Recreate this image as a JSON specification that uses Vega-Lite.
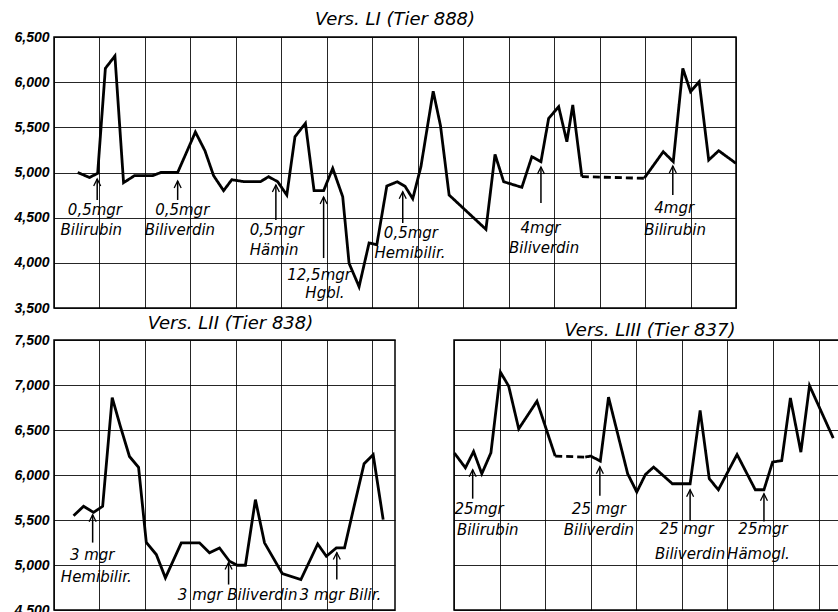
{
  "$schema": "https://vega.github.io/schema/vega-lite/v6.json",
  "background": "white",
  "padding": {"left": 13, "top": 10, "right": 0, "bottom": 0},
  "config": {
    "view": {"stroke": "black", "strokeWidth": 1.5},
    "axis": {"gridColor": "black", "gridWidth": 1, "gridOpacity": 0.85, "ticks": false, "domain": false, "title": null,
      "labelFont": "Liberation Sans", "labelFontStyle": "italic", "labelFontWeight": "bold", "labelFontSize": 14, "labelColor": "black", "labelPadding": 5},
    "title": {"font": "DejaVu Sans", "fontStyle": "italic", "fontWeight": "normal", "fontSize": 18, "color": "black"}
  },
  "datasets": {
    "topLine": [
      {"x": 0.52, "y": 5000, "seg": 1, "style": "solid"},
      {"x": 0.78, "y": 4945, "seg": 1, "style": "solid"},
      {"x": 0.96, "y": 4990, "seg": 1, "style": "solid"},
      {"x": 1.13, "y": 6153, "seg": 1, "style": "solid"},
      {"x": 1.34, "y": 6290, "seg": 1, "style": "solid"},
      {"x": 1.53, "y": 4887, "seg": 1, "style": "solid"},
      {"x": 1.77, "y": 4965, "seg": 1, "style": "solid"},
      {"x": 2.17, "y": 4965, "seg": 1, "style": "solid"},
      {"x": 2.35, "y": 5000, "seg": 1, "style": "solid"},
      {"x": 2.72, "y": 5000, "seg": 1, "style": "solid"},
      {"x": 3.11, "y": 5448, "seg": 1, "style": "solid"},
      {"x": 3.32, "y": 5241, "seg": 1, "style": "solid"},
      {"x": 3.51, "y": 4965, "seg": 1, "style": "solid"},
      {"x": 3.73, "y": 4799, "seg": 1, "style": "solid"},
      {"x": 3.91, "y": 4920, "seg": 1, "style": "solid"},
      {"x": 4.19, "y": 4898, "seg": 1, "style": "solid"},
      {"x": 4.54, "y": 4898, "seg": 1, "style": "solid"},
      {"x": 4.72, "y": 4954, "seg": 1, "style": "solid"},
      {"x": 4.92, "y": 4898, "seg": 1, "style": "solid"},
      {"x": 5.12, "y": 4750, "seg": 1, "style": "solid"},
      {"x": 5.30, "y": 5396, "seg": 1, "style": "solid"},
      {"x": 5.53, "y": 5545, "seg": 1, "style": "solid"},
      {"x": 5.72, "y": 4799, "seg": 1, "style": "solid"},
      {"x": 5.93, "y": 4799, "seg": 1, "style": "solid"},
      {"x": 6.13, "y": 5046, "seg": 1, "style": "solid"},
      {"x": 6.35, "y": 4732, "seg": 1, "style": "solid"},
      {"x": 6.49, "y": 3995, "seg": 1, "style": "solid"},
      {"x": 6.71, "y": 3736, "seg": 1, "style": "solid"},
      {"x": 6.93, "y": 4220, "seg": 1, "style": "solid"},
      {"x": 7.10, "y": 4200, "seg": 1, "style": "solid"},
      {"x": 7.32, "y": 4850, "seg": 1, "style": "solid"},
      {"x": 7.55, "y": 4898, "seg": 1, "style": "solid"},
      {"x": 7.72, "y": 4848, "seg": 1, "style": "solid"},
      {"x": 7.89, "y": 4710, "seg": 1, "style": "solid"},
      {"x": 8.07, "y": 5064, "seg": 1, "style": "solid"},
      {"x": 8.34, "y": 5900, "seg": 1, "style": "solid"},
      {"x": 8.50, "y": 5520, "seg": 1, "style": "solid"},
      {"x": 8.69, "y": 4751, "seg": 1, "style": "solid"},
      {"x": 9.50, "y": 4371, "seg": 1, "style": "solid"},
      {"x": 9.70, "y": 5201, "seg": 1, "style": "solid"},
      {"x": 9.89, "y": 4898, "seg": 1, "style": "solid"},
      {"x": 10.29, "y": 4836, "seg": 1, "style": "solid"},
      {"x": 10.51, "y": 5175, "seg": 1, "style": "solid"},
      {"x": 10.71, "y": 5120, "seg": 1, "style": "solid"},
      {"x": 10.88, "y": 5600, "seg": 1, "style": "solid"},
      {"x": 11.10, "y": 5728, "seg": 1, "style": "solid"},
      {"x": 11.28, "y": 5341, "seg": 1, "style": "solid"},
      {"x": 11.41, "y": 5747, "seg": 1, "style": "solid"},
      {"x": 11.61, "y": 4954, "seg": 1, "style": "solid"},
      {"x": 11.61, "y": 4954, "seg": 2, "style": "dashed"},
      {"x": 12.98, "y": 4936, "seg": 2, "style": "dashed"},
      {"x": 12.98, "y": 4936, "seg": 3, "style": "solid"},
      {"x": 13.40, "y": 5230, "seg": 3, "style": "solid"},
      {"x": 13.62, "y": 5120, "seg": 3, "style": "solid"},
      {"x": 13.83, "y": 6153, "seg": 3, "style": "solid"},
      {"x": 14.00, "y": 5895, "seg": 3, "style": "solid"},
      {"x": 14.19, "y": 6005, "seg": 3, "style": "solid"},
      {"x": 14.40, "y": 5138, "seg": 3, "style": "solid"},
      {"x": 14.62, "y": 5241, "seg": 3, "style": "solid"},
      {"x": 15.00, "y": 5101, "seg": 3, "style": "solid"}
    ],
    "topArrows": [
      {"x": 0.95, "tip": 4928, "tail": 4696},
      {"x": 2.72, "tip": 4906, "tail": 4696},
      {"x": 4.88, "tip": 4862, "tail": 4474},
      {"x": 5.93, "tip": 4729, "tail": 4053},
      {"x": 7.67, "tip": 4787, "tail": 4441},
      {"x": 10.71, "tip": 5061, "tail": 4662},
      {"x": 13.61, "tip": 5072, "tail": 4751}
    ],
    "topText": [
      {"x": 0.90, "y": 4585, "t": "0,5mgr"},
      {"x": 0.82, "y": 4363, "t": "Bilirubin"},
      {"x": 2.82, "y": 4585, "t": "0,5mgr"},
      {"x": 2.77, "y": 4363, "t": "Biliverdin"},
      {"x": 4.90, "y": 4363, "t": "0,5mgr"},
      {"x": 4.84, "y": 4142, "t": "Hämin"},
      {"x": 5.83, "y": 3865, "t": "12,5mgr"},
      {"x": 5.96, "y": 3666, "t": "Hgbl."},
      {"x": 7.85, "y": 4330, "t": "0,5mgr"},
      {"x": 7.83, "y": 4109, "t": "Hemibilir."},
      {"x": 10.70, "y": 4386, "t": "4mgr"},
      {"x": 10.78, "y": 4164, "t": "Biliverdin"},
      {"x": 13.64, "y": 4607, "t": "4mgr"},
      {"x": 13.66, "y": 4363, "t": "Bilirubin"}
    ],
    "blLine": [
      {"x": 0.43, "y": 5548}, {"x": 0.65, "y": 5652}, {"x": 0.87, "y": 5585}, {"x": 1.07, "y": 5652},
      {"x": 1.28, "y": 6860}, {"x": 1.46, "y": 6539}, {"x": 1.66, "y": 6206}, {"x": 1.86, "y": 6084},
      {"x": 2.03, "y": 5252}, {"x": 2.25, "y": 5116}, {"x": 2.45, "y": 4857}, {"x": 2.80, "y": 5246},
      {"x": 3.20, "y": 5246}, {"x": 3.42, "y": 5135}, {"x": 3.64, "y": 5190}, {"x": 3.86, "y": 5042},
      {"x": 4.03, "y": 4997}, {"x": 4.21, "y": 4997}, {"x": 4.43, "y": 5726}, {"x": 4.63, "y": 5246},
      {"x": 5.02, "y": 4905}, {"x": 5.43, "y": 4838}, {"x": 5.80, "y": 5234}, {"x": 5.99, "y": 5097},
      {"x": 6.21, "y": 5190}, {"x": 6.39, "y": 5190}, {"x": 6.60, "y": 5652}, {"x": 6.82, "y": 6125},
      {"x": 7.02, "y": 6225}, {"x": 7.24, "y": 5504}
    ],
    "blArrows": [
      {"x": 0.85, "tip": 5559, "tail": 5249},
      {"x": 3.84, "tip": 5027, "tail": 4783},
      {"x": 6.22, "tip": 5138, "tail": 4838}
    ],
    "blText": [
      {"x": 0.84, "y": 5116, "t": "3 mgr"},
      {"x": 0.93, "y": 4872, "t": "Hemibilir."},
      {"x": 4.04, "y": 4672, "t": "3 mgr Biliverdin"},
      {"x": 6.30, "y": 4672, "t": "3 mgr Bilir."}
    ],
    "brLine": [
      {"x": 0.01, "y": 6243, "seg": 1, "style": "solid"},
      {"x": 0.25, "y": 6080, "seg": 1, "style": "solid"},
      {"x": 0.43, "y": 6261, "seg": 1, "style": "solid"},
      {"x": 0.61, "y": 6014, "seg": 1, "style": "solid"},
      {"x": 0.81, "y": 6247, "seg": 1, "style": "solid"},
      {"x": 1.02, "y": 7142, "seg": 1, "style": "solid"},
      {"x": 1.20, "y": 6987, "seg": 1, "style": "solid"},
      {"x": 1.42, "y": 6513, "seg": 1, "style": "solid"},
      {"x": 1.82, "y": 6820, "seg": 1, "style": "solid"},
      {"x": 2.22, "y": 6210, "seg": 1, "style": "solid"},
      {"x": 2.22, "y": 6210, "seg": 2, "style": "dashed"},
      {"x": 2.88, "y": 6199, "seg": 2, "style": "dashed"},
      {"x": 2.88, "y": 6199, "seg": 3, "style": "solid"},
      {"x": 3.00, "y": 6210, "seg": 3, "style": "solid"},
      {"x": 3.21, "y": 6155, "seg": 3, "style": "solid"},
      {"x": 3.39, "y": 6865, "seg": 3, "style": "solid"},
      {"x": 3.81, "y": 6014, "seg": 3, "style": "solid"},
      {"x": 4.01, "y": 5811, "seg": 3, "style": "solid"},
      {"x": 4.20, "y": 6006, "seg": 3, "style": "solid"},
      {"x": 4.38, "y": 6088, "seg": 3, "style": "solid"},
      {"x": 4.79, "y": 5903, "seg": 3, "style": "solid"},
      {"x": 5.18, "y": 5903, "seg": 3, "style": "solid"},
      {"x": 5.40, "y": 6716, "seg": 3, "style": "solid"},
      {"x": 5.60, "y": 5959, "seg": 3, "style": "solid"},
      {"x": 5.80, "y": 5836, "seg": 3, "style": "solid"},
      {"x": 6.21, "y": 6228, "seg": 3, "style": "solid"},
      {"x": 6.61, "y": 5836, "seg": 3, "style": "solid"},
      {"x": 6.80, "y": 5836, "seg": 3, "style": "solid"},
      {"x": 6.99, "y": 6144, "seg": 3, "style": "solid"},
      {"x": 7.19, "y": 6160, "seg": 3, "style": "solid"},
      {"x": 7.38, "y": 6855, "seg": 3, "style": "solid"},
      {"x": 7.61, "y": 6254, "seg": 3, "style": "solid"},
      {"x": 7.80, "y": 6993, "seg": 3, "style": "solid"},
      {"x": 8.32, "y": 6410, "seg": 3, "style": "solid"}
    ],
    "brArrows": [
      {"x": 0.41, "tip": 6058, "tail": 5737},
      {"x": 3.20, "tip": 6092, "tail": 5770},
      {"x": 5.18, "tip": 5837, "tail": 5493},
      {"x": 6.80, "tip": 5792, "tail": 5482}
    ],
    "brText": [
      {"x": 0.55, "y": 5618, "t": "25mgr"},
      {"x": 0.74, "y": 5385, "t": "Bilirubin"},
      {"x": 3.18, "y": 5618, "t": "25 mgr"},
      {"x": 3.18, "y": 5385, "t": "Biliverdin"},
      {"x": 5.10, "y": 5396, "t": "25 mgr"},
      {"x": 5.18, "y": 5127, "t": "Biliverdin"},
      {"x": 6.78, "y": 5396, "t": "25mgr"},
      {"x": 6.68, "y": 5127, "t": "Hämogl."}
    ]
  },
  "bounds": "flush",
  "spacing": 32,
  "resolve": {"scale": {"x": "independent", "y": "independent", "strokeDash": "independent"}},
  "vconcat": [
    {
      "width": 682,
      "height": 271,
      "title": {"text": "Vers. LI (Tier 888)", "offset": 1},
      "encoding": {
        "x": {"type": "quantitative", "scale": {"domain": [0, 15], "nice": false, "zero": false},
          "axis": {"values": [0,1,2,3,4,5,6,7,8,9,10,11,12,13,14,15], "labels": false, "grid": true}},
        "y": {"type": "quantitative", "scale": {"domain": [3500, 6500], "nice": false, "zero": false},
          "axis": {"values": [3500,4000,4500,5000,5500,6000,6500], "format": ",d", "grid": true}}
      },
      "layer": [
        {
          "data": {"name": "topLine"},
          "mark": {"type": "line", "stroke": "black", "strokeWidth": 2.8, "strokeMiterLimit": 4},
          "encoding": {
            "x": {"field": "x", "type": "quantitative"},
            "y": {"field": "y", "type": "quantitative"},
            "detail": {"field": "seg"},
            "strokeDash": {"field": "style", "type": "nominal", "scale": {"domain": ["solid", "dashed"], "range": [[1, 0], [7, 4]]}, "legend": null}
          }
        },
        {
          "data": {"name": "topArrows"},
          "mark": {"type": "rule", "color": "black", "strokeWidth": 1.5},
          "encoding": {"x": {"field": "x", "type": "quantitative"}, "y": {"field": "tip", "type": "quantitative"}, "y2": {"field": "tail"}}
        },
        {
          "data": {"name": "topArrows"},
          "mark": {"type": "point", "shape": "M-0.5,1L0,0L0.5,1", "filled": false, "stroke": "black", "strokeWidth": 1.3, "size": 196, "opacity": 1},
          "encoding": {"x": {"field": "x", "type": "quantitative"}, "y": {"field": "tip", "type": "quantitative"}}
        },
        {
          "data": {"name": "topText"},
          "mark": {"type": "text", "font": "DejaVu Sans", "fontStyle": "italic", "fontSize": 15, "align": "center", "baseline": "middle", "color": "black"},
          "encoding": {"x": {"field": "x", "type": "quantitative"}, "y": {"field": "y", "type": "quantitative"}, "text": {"field": "t"}}
        }
      ]
    },
    {
      "bounds": "flush",
      "spacing": 59,
      "resolve": {"scale": {"x": "independent", "y": "independent", "strokeDash": "independent"}},
      "hconcat": [
        {
          "width": 341,
          "height": 270,
          "title": {"text": "Vers. LII (Tier 838)", "offset": 0, "dx": 6},
          "encoding": {
            "x": {"type": "quantitative", "scale": {"domain": [0, 7.5], "nice": false, "zero": false},
              "axis": {"values": [0,1,2,3,4,5,6,7], "labels": false, "grid": true}},
            "y": {"type": "quantitative", "scale": {"domain": [4500, 7500], "nice": false, "zero": false},
              "axis": {"values": [4500,5000,5500,6000,6500,7000,7500], "format": ",d", "grid": true}}
          },
          "layer": [
            {
              "data": {"name": "blLine"},
              "mark": {"type": "line", "stroke": "black", "strokeWidth": 2.8, "strokeMiterLimit": 4},
              "encoding": {"x": {"field": "x", "type": "quantitative"}, "y": {"field": "y", "type": "quantitative"}}
            },
            {
              "data": {"name": "blArrows"},
              "mark": {"type": "rule", "color": "black", "strokeWidth": 1.5},
              "encoding": {"x": {"field": "x", "type": "quantitative"}, "y": {"field": "tip", "type": "quantitative"}, "y2": {"field": "tail"}}
            },
            {
              "data": {"name": "blArrows"},
              "mark": {"type": "point", "shape": "M-0.5,1L0,0L0.5,1", "filled": false, "stroke": "black", "strokeWidth": 1.3, "size": 196, "opacity": 1},
              "encoding": {"x": {"field": "x", "type": "quantitative"}, "y": {"field": "tip", "type": "quantitative"}}
            },
            {
              "data": {"name": "blText"},
              "mark": {"type": "text", "font": "DejaVu Sans", "fontStyle": "italic", "fontSize": 15, "align": "center", "baseline": "middle", "color": "black"},
              "encoding": {"x": {"field": "x", "type": "quantitative"}, "y": {"field": "y", "type": "quantitative"}, "text": {"field": "t"}}
            }
          ]
        },
        {
          "width": 392,
          "height": 270,
          "title": {"text": "Vers. LIII (Tier 837)", "offset": 0},
          "encoding": {
            "x": {"type": "quantitative", "scale": {"domain": [0, 8.6], "nice": false, "zero": false},
              "axis": {"values": [0,1,2,3,4,5,6,7,8], "labels": false, "grid": true}},
            "y": {"type": "quantitative", "scale": {"domain": [4500, 7500], "nice": false, "zero": false},
              "axis": {"values": [4500,5000,5500,6000,6500,7000,7500], "labels": false, "grid": true}}
          },
          "layer": [
            {
              "data": {"name": "brLine"},
              "mark": {"type": "line", "stroke": "black", "strokeWidth": 2.8, "strokeMiterLimit": 4},
              "encoding": {
                "x": {"field": "x", "type": "quantitative"},
                "y": {"field": "y", "type": "quantitative"},
                "detail": {"field": "seg"},
                "strokeDash": {"field": "style", "type": "nominal", "scale": {"domain": ["solid", "dashed"], "range": [[1, 0], [7, 4]]}, "legend": null}
              }
            },
            {
              "data": {"name": "brArrows"},
              "mark": {"type": "rule", "color": "black", "strokeWidth": 1.5},
              "encoding": {"x": {"field": "x", "type": "quantitative"}, "y": {"field": "tip", "type": "quantitative"}, "y2": {"field": "tail"}}
            },
            {
              "data": {"name": "brArrows"},
              "mark": {"type": "point", "shape": "M-0.5,1L0,0L0.5,1", "filled": false, "stroke": "black", "strokeWidth": 1.3, "size": 196, "opacity": 1},
              "encoding": {"x": {"field": "x", "type": "quantitative"}, "y": {"field": "tip", "type": "quantitative"}}
            },
            {
              "data": {"name": "brText"},
              "mark": {"type": "text", "font": "DejaVu Sans", "fontStyle": "italic", "fontSize": 15, "align": "center", "baseline": "middle", "color": "black"},
              "encoding": {"x": {"field": "x", "type": "quantitative"}, "y": {"field": "y", "type": "quantitative"}, "text": {"field": "t"}}
            }
          ]
        }
      ]
    }
  ]
}
